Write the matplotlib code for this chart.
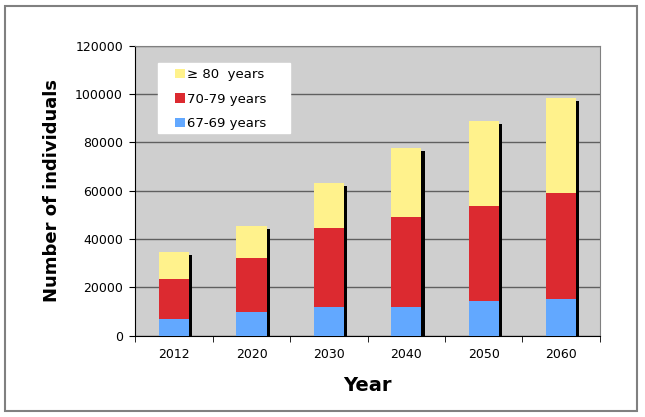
import numpy as np
import matplotlib
matplotlib.use("Agg")
import matplotlib.pyplot as plt
import matplotlib.transforms as mtransforms
from matplotlib.patches import Rectangle

# --- Data ---
years = ["2012", "2020", "2030", "2040", "2050", "2060"]
age_67_69 = [6900, 9800, 11900, 12000, 14400, 15200]
age_70_79 = [23400, 32300, 44700, 49200, 53600, 59000]
age_80_plus = [34600, 45500, 63300, 77700, 88900, 98400]  # cumulative totals

seg_80 = [t - m for t, m in zip(age_80_plus, age_70_79)]
seg_70 = [m - b for m, b in zip(age_70_79, age_67_69)]

c_blue = "#62A8FF"
c_red = "#DC2A30"
c_yellow = "#FFF28C"

plt.rcParams["font.family"] = "DejaVu Sans"

fig = plt.figure(figsize=(6.45, 4.17), dpi=100)
ax = fig.add_axes([0.210, 0.195, 0.720, 0.695])

# outer frame round the whole chart
fig.patches.append(Rectangle((0.008, 0.015), 0.980, 0.970, transform=fig.transFigure,
                             fill=False, edgecolor="#808080", lw=1.5))

x = np.arange(len(years))
w = 0.39

# shadow: black copy of each bar, shifted right/down a few points
shadow_tr = mtransforms.offset_copy(ax.transData, fig=fig, x=2.3, y=-2.3, units="points")
ax.bar(x, age_80_plus, w, color="black", transform=shadow_tr, zorder=2)

ax.bar(x, age_67_69, w, color=c_blue, label="67-69 years", zorder=3)
ax.bar(x, seg_70, w, bottom=age_67_69, color=c_red, label="70-79 years", zorder=3)
ax.bar(x, seg_80, w, bottom=age_70_79, color=c_yellow, label="\u2265 80  years", zorder=3)

ax.set_facecolor("#CFCFCF")
ax.set_ylim(0, 120000)
ax.set_xlim(-0.5, len(years) - 0.5)
ax.set_yticks(np.arange(0, 120001, 20000))
ax.yaxis.grid(True, color="#606060", lw=1)
ax.set_axisbelow(True)

ax.set_xticks(x)
ax.set_xticklabels(years, fontsize=9)
ax.tick_params(axis="x", length=0, pad=9)
ax.set_xticks(np.arange(-0.5, len(years)), minor=True)
ax.tick_params(axis="x", which="minor", length=4, color="black", direction="out")
ax.tick_params(axis="y", labelsize=9, length=4, direction="out", pad=5)

for side in ["top", "right"]:
    ax.spines[side].set_color("#808080")
ax.spines["left"].set_color("black")
ax.spines["bottom"].set_color("black")

ax.set_xlabel("Year", fontsize=14, fontweight="bold", labelpad=11)
ax.set_ylabel("Number of individuals", fontsize=13, fontweight="bold", labelpad=10)

# white legend box, drawn separately so its size matches the original
ax.add_patch(Rectangle((0.048, 0.700), 0.285, 0.241, transform=ax.transAxes,
                       facecolor="white", edgecolor="white", zorder=4))

handles, labels = ax.get_legend_handles_labels()
leg = ax.legend(handles[::-1], labels[::-1], loc="upper left",
                bbox_to_anchor=(0.086, 0.922), fontsize=9.5, frameon=False,
                handlelength=0.7, handleheight=0.7, handletextpad=0.2,
                labelspacing=0.85, borderpad=0, borderaxespad=0)
leg.set_zorder(5)

fig.savefig("out.png", dpi=100)
